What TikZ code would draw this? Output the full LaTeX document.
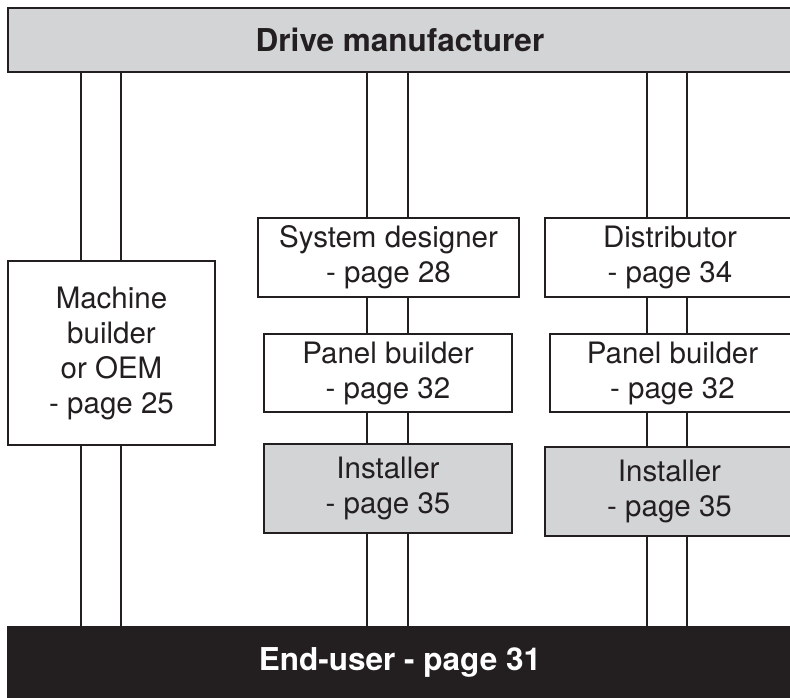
\documentclass[tikz,border=0pt]{standalone}
\usepackage{fontspec}
\setmainfont{TeX Gyre Heros}
\definecolor{ink}{HTML}{231F20}
\definecolor{shade}{HTML}{D3D4D6}
\begin{document}
\begin{tikzpicture}[x=1pt,y=-1pt,line width=2pt,draw=ink,
				every node/.style={draw=ink,text=ink,align=center,inner sep=0pt,
					font=\fontsize{29.5}{35}\selectfont},
				role/.style={fill=white,minimum height=79pt},
				site/.style={fill=shade,minimum height=89pt},
				bar/.style={minimum width=784pt,minimum height=64pt,
					font=\fontsize{31.5}{35}\selectfont\bfseries}]
\useasboundingbox (0,0) rectangle (790,697);
\node[bar,fill=shade] (drive) at (400,40) {Drive manufacturer};
\node[bar,fill=ink,text=white,minimum height=70pt] (user) at (400,662) {End-user - page 31};
% left column
\node[role,minimum width=207pt,minimum height=184pt] (oem) at (111.5,353)
	{Machine\\builder\\or OEM\\- page 25};
% middle column
\node[role,minimum width=261pt] (sys) at (388.5,257.5) {System designer\\- page 28};
\node[role,minimum width=248pt,minimum height=78pt] (pan1) at (388,373) {Panel builder\\- page 32};
\node[site,minimum width=248pt] (ins1) at (388,488.5) {Installer\\- page 35};
% right column
\node[role,minimum width=250pt] (dist) at (670,257.5) {Distributor\\- page 34};
\node[role,minimum width=245pt,minimum height=78pt] (pan2) at (672.5,373) {Panel builder\\- page 32};
\node[site,minimum width=249pt] (ins2) at (669.5,491) {Installer\\- page 35};
\coordinate (a1) at (81,0);
\coordinate (a2) at (121,0);
\coordinate (b1) at (367,0);
\coordinate (b2) at (408,0);
\coordinate (c1) at (647,0);
\coordinate (c2) at (687,0);
\foreach \c in {a1,a2}
	\foreach \u/\v in {drive/oem,oem/user}
		\draw (\u.south -| \c) -- (\v.north -| \c);
\foreach \c in {b1,b2}
	\foreach \u/\v in {drive/sys,sys/pan1,pan1/ins1,ins1/user}
		\draw (\u.south -| \c) -- (\v.north -| \c);
\foreach \c in {c1,c2}
	\foreach \u/\v in {drive/dist,dist/pan2,pan2/ins2,ins2/user}
		\draw (\u.south -| \c) -- (\v.north -| \c);
\end{tikzpicture}
\end{document}
